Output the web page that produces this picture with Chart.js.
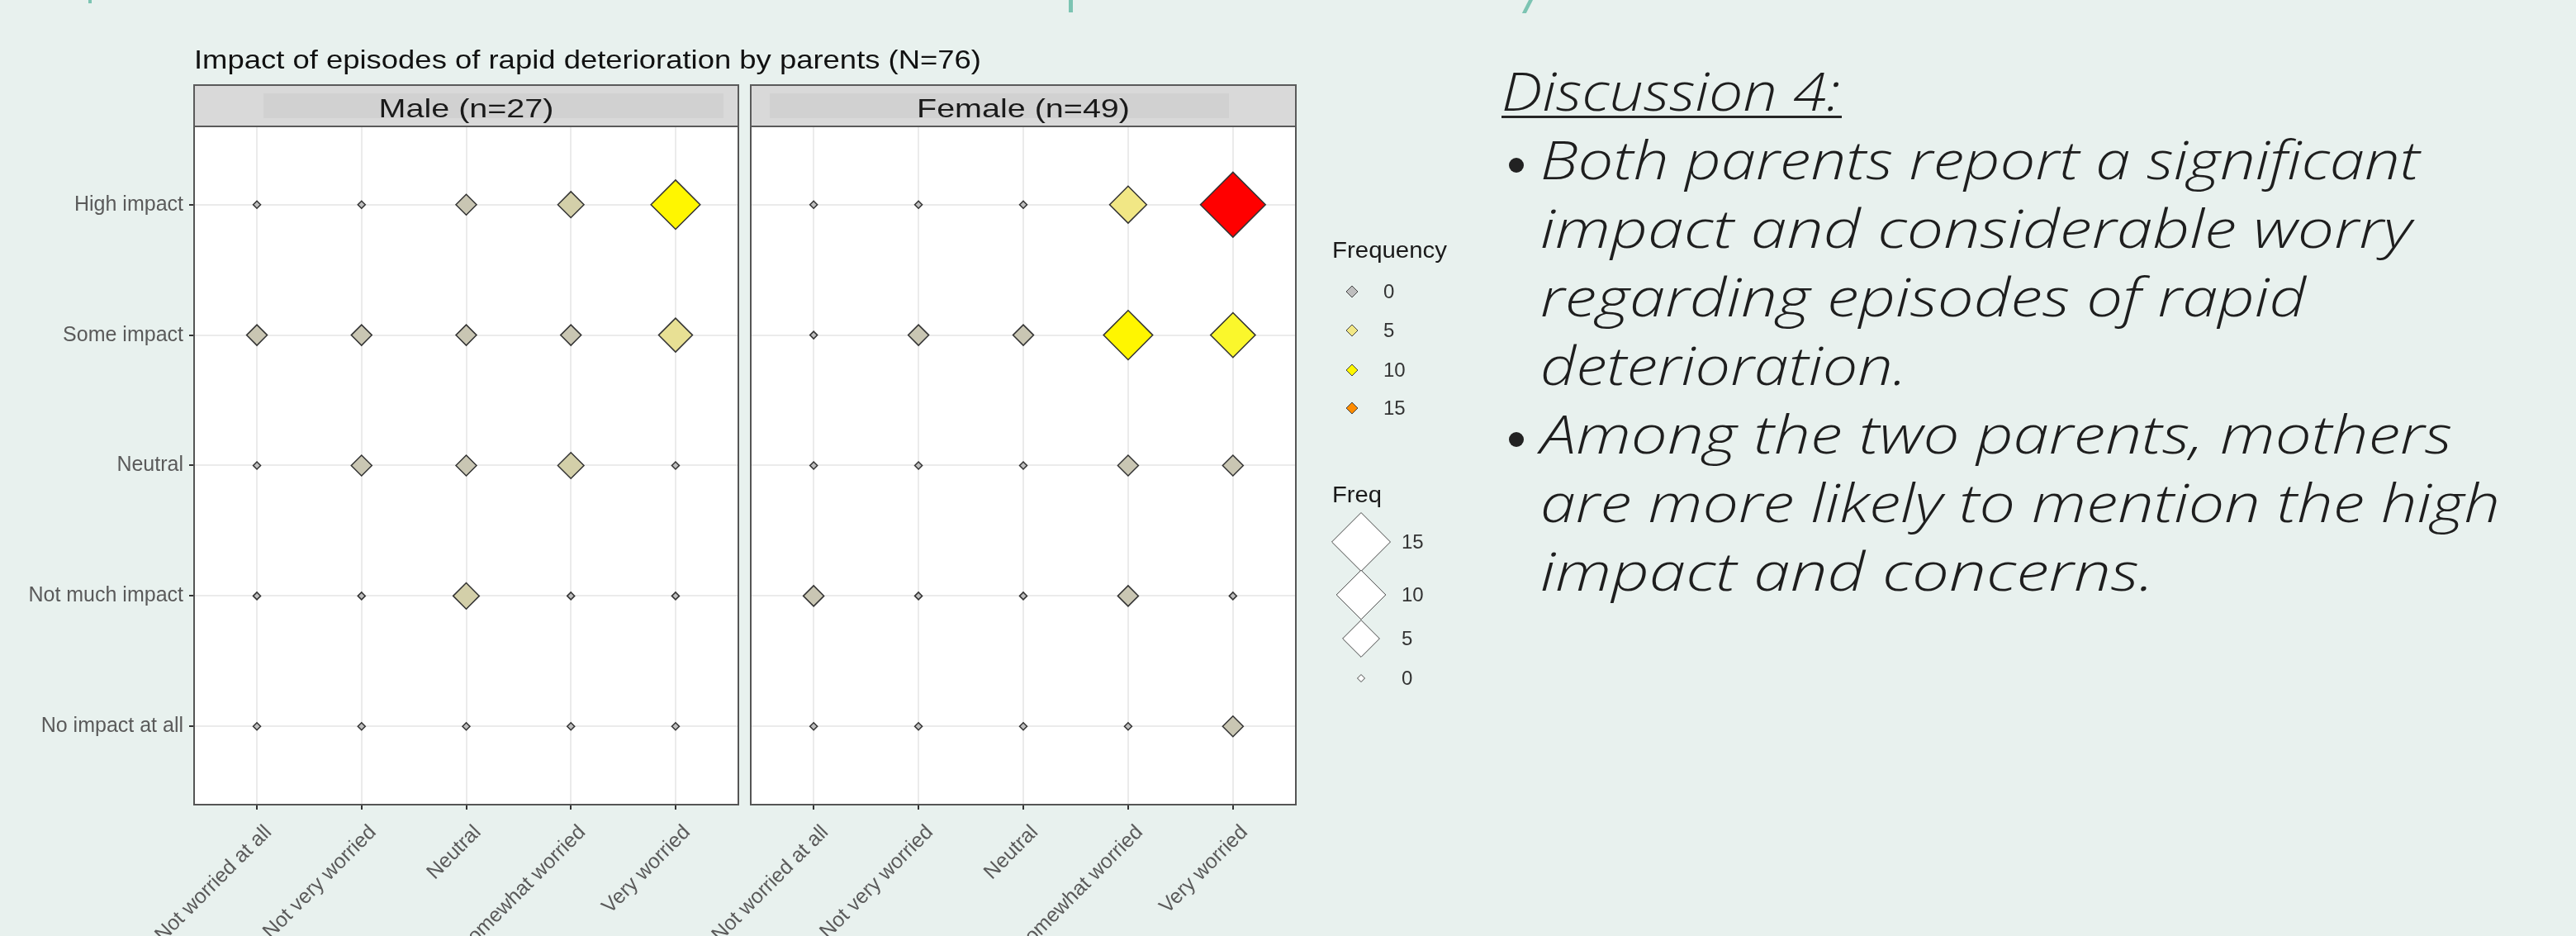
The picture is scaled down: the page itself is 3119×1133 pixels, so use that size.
<!DOCTYPE html>
<html>
<head>
<meta charset="utf-8">
<script src="https://cdn.jsdelivr.net/npm/chart.js@4.4.1/dist/chart.umd.min.js"></script>
<style>
html,body{margin:0;padding:0;}
body{width:3119px;height:1133px;overflow:hidden;background:#E8F1EE;position:relative;font-family:"Liberation Sans",Arial,sans-serif;}
canvas{position:absolute;top:0;}
#male{left:0;}
#female{left:700px;}
.deco{position:absolute;background:#7CC4B2;}
#notes{position:absolute;left:1818px;top:68px;color:#1E1E1E;font-family:"Open Sans",sans-serif;font-style:italic;font-weight:300;font-size:64px;line-height:83px;}
#notes .ln{position:relative;height:83px;white-space:nowrap;}
#notes .t{display:inline-block;transform-origin:0 50%;}
#notes .bul{position:absolute;left:9px;top:40px;width:18px;height:18px;border-radius:50%;background:#222222;}
#notes .ind{padding-left:47px;}
#uline{position:absolute;left:1818px;top:140px;width:412px;height:3px;background:#262626;}
</style>
</head>
<body>
<div class="deco" style="left:107px;top:0;width:4px;height:4px;"></div>
<div class="deco" style="left:1294px;top:0;width:5px;height:15px;"></div>
<div class="deco" style="left:1851px;top:0;width:5px;height:16px;transform-origin:0 0;transform:skewX(-27deg);"></div>

<canvas id="male" width="1250" height="1300" style="width:1250px;height:1300px;"></canvas>
<canvas id="female" width="1100" height="1300" style="width:1100px;height:1300px;"></canvas>

<div id="notes">
  <div class="ln"><span class="t" data-w="410">Discussion 4:</span></div>
  <div class="ln ind"><span class="bul"></span><span class="t" data-w="1065">Both parents report a significant</span></div>
  <div class="ln ind"><span class="t" data-w="1055">impact and considerable worry</span></div>
  <div class="ln ind"><span class="t" data-w="927">regarding episodes of rapid</span></div>
  <div class="ln ind"><span class="t" data-w="444">deterioration.</span></div>
  <div class="ln ind"><span class="bul"></span><span class="t" data-w="1104">Among the two parents, mothers</span></div>
  <div class="ln ind"><span class="t" data-w="1162">are more likely to mention the high</span></div>
  <div class="ln ind"><span class="t" data-w="743">impact and concerns.</span></div>
</div>
<div id="uline"></div>

<script>
// ---------------- DATA ----------------
const impactLevels = ["High impact", "Some impact", "Neutral", "Not much impact", "No impact at all"];
const worryLevels = ["Not worried at all", "Not very worried", "Neutral", "Somewhat worried", "Very worried"];

// Male (n=27): counts per impact level, columns follow worryLevels
const maleHighImpact    = [0, 0, 1, 2, 10];
const maleSomeImpact    = [1, 1, 1, 1, 4];
const maleNeutral       = [0, 1, 1, 2, 0];
const maleNotMuchImpact = [0, 0, 2, 0, 0];
const maleNoImpact      = [0, 0, 0, 0, 0];

// Female (n=49)
const femaleHighImpact    = [0, 0, 0, 5, 19];
const femaleSomeImpact    = [0, 1, 1, 10, 8];
const femaleNeutral       = [0, 0, 0, 1, 1];
const femaleNotMuchImpact = [1, 0, 0, 1, 0];
const femaleNoImpact      = [0, 0, 0, 0, 1];

const panelTitles = ["Male (n=27)", "Female (n=49)"];
const chartTitle = "Impact of episodes of rapid deterioration by parents (N=76)";
const colorLegendTitle = "Frequency";
const colorLegendBreaks = [0, 5, 10, 15];
const sizeLegendTitle = "Freq";
const sizeLegendBreaks = [15, 10, 5, 0];

// ---------------- STYLE HELPERS ----------------
const maleRows = [maleHighImpact, maleSomeImpact, maleNeutral, maleNotMuchImpact, maleNoImpact];
const femaleRows = [femaleHighImpact, femaleSomeImpact, femaleNeutral, femaleNotMuchImpact, femaleNoImpact];
const maxFreq = Math.max(...maleRows.flat(), ...femaleRows.flat());

const gradColors = [[190,190,190],[240,230,140],[255,255,0],[255,165,0],[255,0,0]];
function fillColor(v) {
  const t = Math.max(0, Math.min(1, v / maxFreq)) * (gradColors.length - 1);
  const i = Math.min(Math.floor(t), gradColors.length - 2);
  const f = t - i;
  const a = gradColors[i], b = gradColors[i + 1];
  const c = a.map((x, k) => Math.round(x + (b[k] - x) * f));
  return `rgb(${c[0]},${c[1]},${c[2]})`;
}
function radius(v) { return 4.5 + 8 * Math.sqrt(v); }

const FONT = '"Liberation Sans", Arial, sans-serif';
const CANVAS_H = 1300;
const PANEL_TOP = 153;
const PANEL_BOTTOM = 974;

function fitText(ctx, text, x, y, targetW, font, color, center) {
  ctx.save();
  ctx.font = font;
  const w = ctx.measureText(text).width;
  const s = targetW / w;
  ctx.translate(x, y);
  ctx.scale(s, 1);
  ctx.fillStyle = color;
  ctx.textBaseline = 'alphabetic';
  ctx.textAlign = 'left';
  ctx.fillText(text, center ? -w / 2 : 0, 0);
  ctx.restore();
}

function diamond(ctx, x, y, r, fill, stroke, lw) {
  ctx.beginPath();
  ctx.moveTo(x - r, y); ctx.lineTo(x, y - r); ctx.lineTo(x + r, y); ctx.lineTo(x, y + r);
  ctx.closePath();
  ctx.fillStyle = fill; ctx.fill();
  ctx.lineWidth = lw; ctx.strokeStyle = stroke; ctx.stroke();
}

const panelPlugin = {
  id: 'panel',
  beforeDraw(chart) {
    const {ctx, chartArea: a} = chart;
    ctx.save();
    ctx.fillStyle = '#FFFFFF';
    ctx.fillRect(a.left, a.top, a.right - a.left, a.bottom - a.top);
    ctx.restore();
  },
  afterDraw(chart, args, opts) {
    const {ctx, chartArea: a} = chart;
    ctx.save();
    // panel border
    ctx.strokeStyle = '#555555';
    ctx.lineWidth = 2;
    ctx.strokeRect(a.left, a.top, a.right - a.left, a.bottom - a.top);
    // strip
    const sTop = a.top - 50;
    ctx.fillStyle = '#D9D9D9';
    ctx.fillRect(a.left, sTop, a.right - a.left, 50);
    ctx.fillStyle = '#D1D1D1';
    if (opts.isLeft) ctx.fillRect(a.left + 84, sTop + 10, a.right - a.left - 102, 30);
    else ctx.fillRect(a.left + 23, sTop + 10, a.right - a.left - 104, 30);
    ctx.strokeStyle = '#5A5A5A';
    ctx.lineWidth = 2;
    ctx.strokeRect(a.left, sTop, a.right - a.left, 50);
    fitText(ctx, opts.stripText, (a.left + a.right) / 2, 142, opts.stripW, '32px ' + FONT, '#1A1A1A', true);

    if (opts.isLeft) {
      fitText(ctx, chartTitle, a.left, 83, 953, '32px ' + FONT, '#111111', false);
    } else {
      const ox = opts.offsetX;
      // colour legend
      fitText(ctx, colorLegendTitle, 1613 - ox, 312, 139, '28px ' + FONT, '#1A1A1A', false);
      const cy = [353, 400, 448, 494];
      colorLegendBreaks.forEach((v, k) => {
        diamond(ctx, 1637 - ox, cy[k], 7, fillColor(v), '#444444', 1);
        ctx.fillStyle = '#333333';
        ctx.font = '24px ' + FONT;
        ctx.textBaseline = 'middle';
        ctx.textAlign = 'left';
        ctx.fillText(String(v), 1675 - ox, cy[k] + 1);
      });
      // size legend
      fitText(ctx, sizeLegendTitle, 1613 - ox, 608, 60, '28px ' + FONT, '#1A1A1A', false);
      const sy = [656, 720, 773, 821];
      sizeLegendBreaks.forEach((v, k) => {
        diamond(ctx, 1648 - ox, sy[k], radius(v), '#FFFFFF', '#444444', 1);
        ctx.fillStyle = '#333333';
        ctx.font = '24px ' + FONT;
        ctx.textBaseline = 'middle';
        ctx.textAlign = 'left';
        ctx.fillText(String(v), 1697 - ox, sy[k] + 1);
      });
    }
    ctx.restore();
  }
};

function makeChart(id, rows, stripText, stripW, isLeft, padLeft, padRight, offsetX) {
  const pts = [];
  rows.forEach((row, i) => row.forEach((v, j) => pts.push({x: j + 1, y: impactLevels.length - i, v: v})));
  const tickFont = {family: FONT, size: 25};
  return new Chart(document.getElementById(id), {
    type: 'scatter',
    data: {
      datasets: [{
        data: pts,
        pointStyle: 'rectRot',
        pointRadius: pts.map(p => radius(p.v)),
        pointHoverRadius: pts.map(p => radius(p.v)),
        pointBackgroundColor: pts.map(p => fillColor(p.v)),
        pointHoverBackgroundColor: pts.map(p => fillColor(p.v)),
        pointBorderColor: '#333333',
        pointHoverBorderColor: '#333333',
        pointBorderWidth: 1.5,
        pointHoverBorderWidth: 1.5
      }]
    },
    options: {
      responsive: false,
      animation: false,
      devicePixelRatio: 1,
      events: [],
      layout: {padding: {left: padLeft, right: padRight, top: PANEL_TOP, bottom: 0}},
      plugins: {
        legend: {display: false},
        tooltip: {enabled: false},
        title: {display: false},
        panel: {isLeft: isLeft, stripText: stripText, stripW: stripW, offsetX: offsetX}
      },
      scales: {
        x: {
          type: 'linear', min: 0.4, max: 5.6,
          afterBuildTicks: s => { s.ticks = worryLevels.map((_, k) => ({value: k + 1})); },
          afterFit: s => { s.height = CANVAS_H - PANEL_BOTTOM; },
          ticks: {autoSkip: false, minRotation: 45, maxRotation: 45, padding: 13, labelOffset: 14,
                  color: '#5A5A5A', font: tickFont, callback: v => worryLevels[v - 1]},
          grid: {color: '#EBEBEB', lineWidth: 2, drawTicks: true, tickLength: 6, tickColor: '#333333', tickWidth: 2},
          border: {display: false}
        },
        y: {
          type: 'linear', min: 0.4, max: 5.6,
          afterBuildTicks: s => { s.ticks = impactLevels.map((_, k) => ({value: k + 1})); },
          afterFit: s => { s.width = isLeft ? 235 : 0; },
          ticks: {display: isLeft, padding: 7, color: '#5A5A5A', font: tickFont,
                  callback: v => impactLevels[impactLevels.length - v]},
          grid: {color: '#EBEBEB', lineWidth: 2, drawTicks: isLeft, tickLength: 6, tickColor: '#333333', tickWidth: 2},
          border: {display: false}
        }
      }
    },
    plugins: [panelPlugin]
  });
}

makeChart('male', maleRows, panelTitles[0], 212, true, 0, 356, 0);
makeChart('female', femaleRows, panelTitles[1], 258, false, 209, 231, 700);

// fit the discussion text lines to the reference widths
function fitNotes() {
  document.querySelectorAll('#notes .t').forEach(el => {
    el.style.transform = 'none';
    const w = el.getBoundingClientRect().width;
    const target = parseFloat(el.dataset.w);
    if (w > 0) el.style.transform = 'scaleX(' + (target / w) + ')';
  });
}
fitNotes();
if (document.fonts && document.fonts.ready) document.fonts.ready.then(fitNotes);
</script>
</body>
</html>
